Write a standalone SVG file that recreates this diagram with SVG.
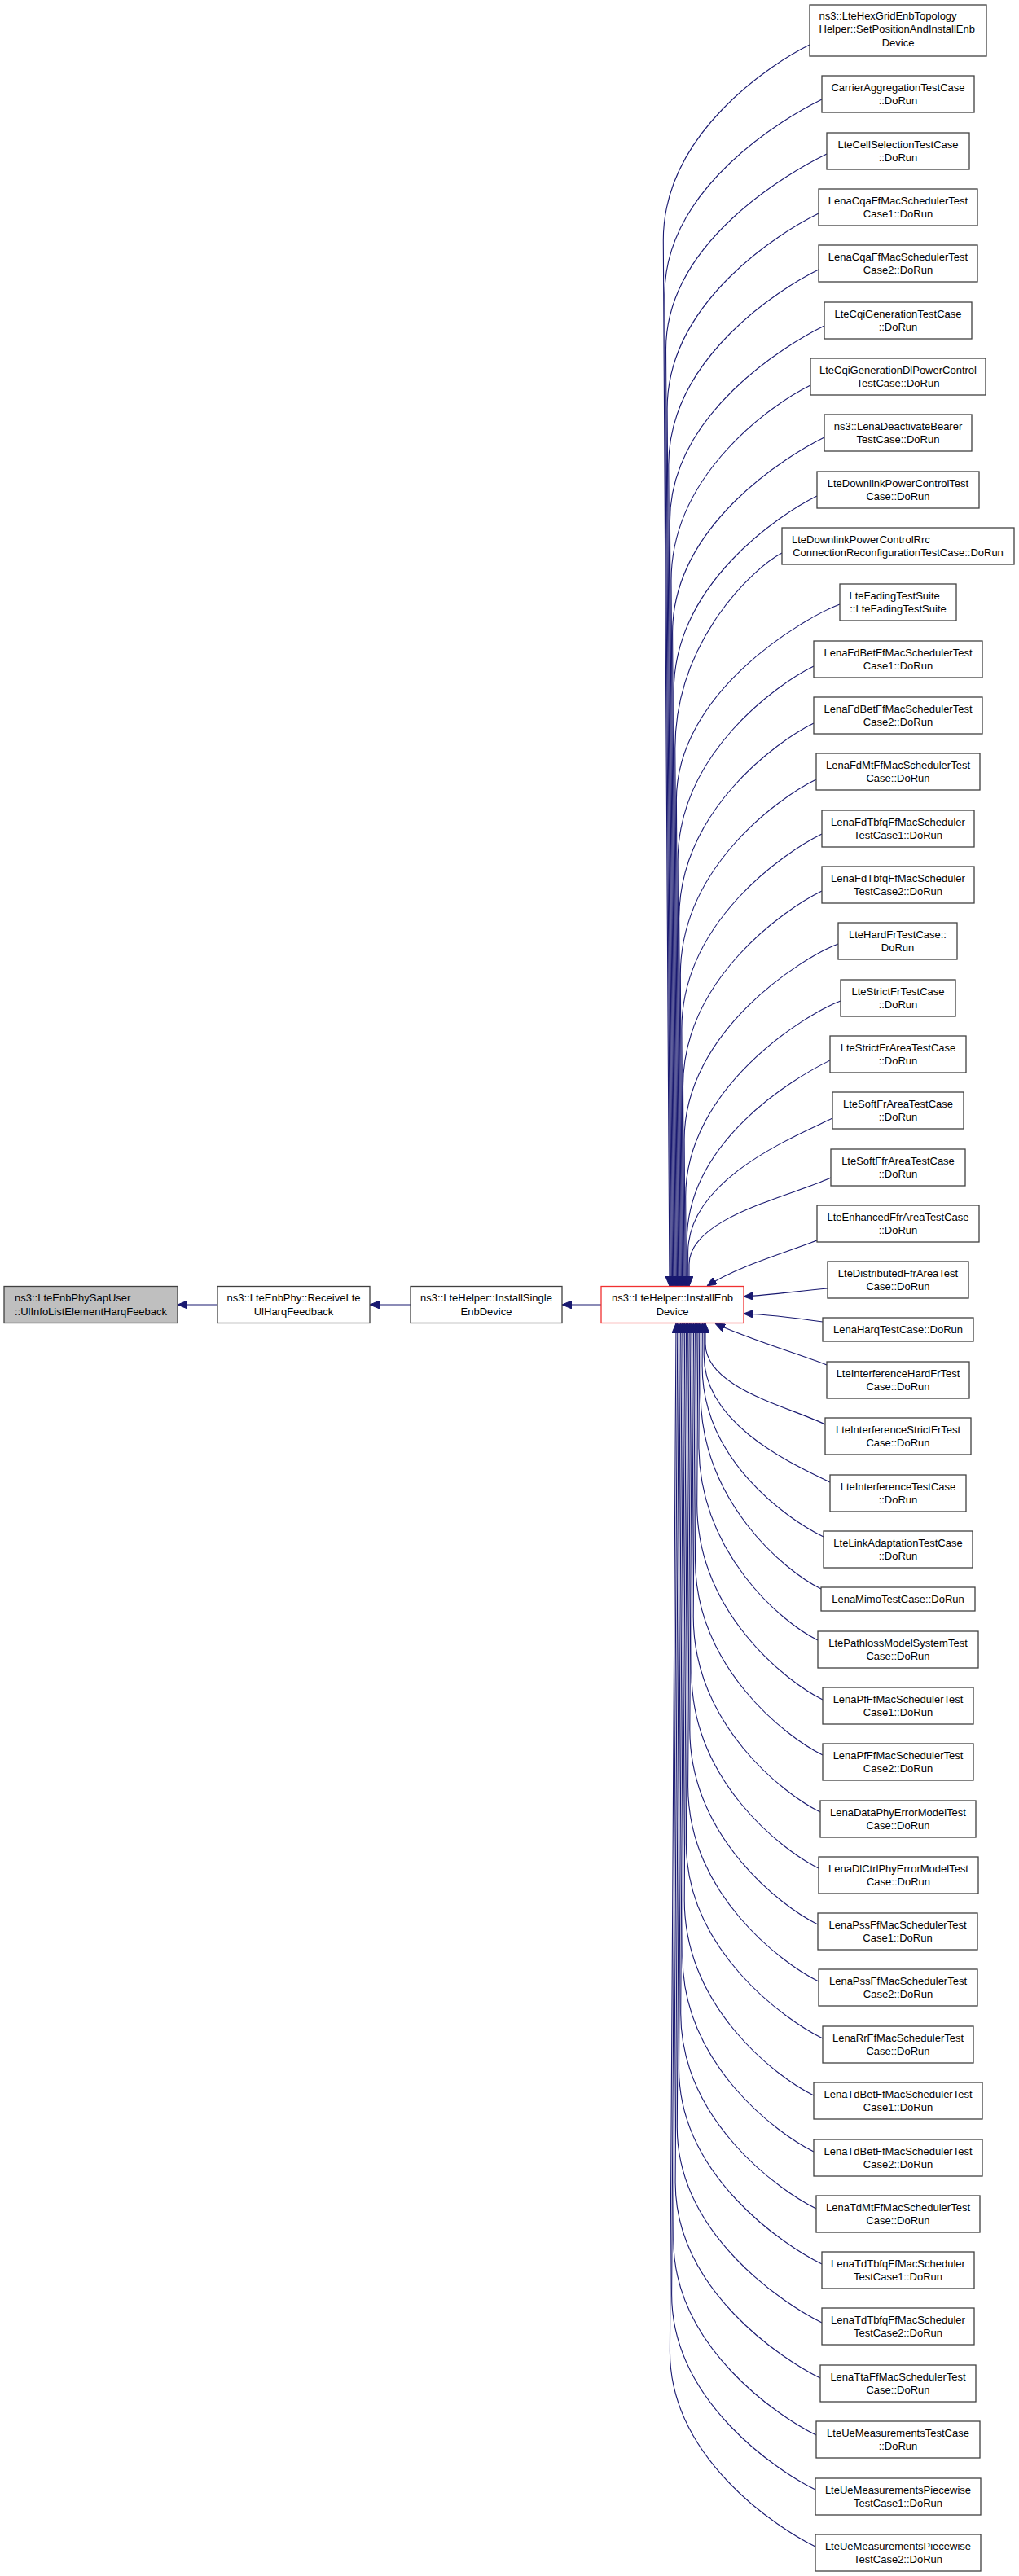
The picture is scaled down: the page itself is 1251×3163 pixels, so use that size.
<svg xmlns="http://www.w3.org/2000/svg" width="1251" height="3163" viewBox="0 0 1251 3163">
<style>
.node rect{fill:#ffffff;stroke:#404040;stroke-width:1.3}
#nA rect{fill:#bfbfbf}
#nD rect{stroke:#f03030}
text{font-family:"Liberation Sans",Arial,Helvetica,sans-serif;font-size:13px;fill:#000}
.c{text-anchor:middle}
.l{text-anchor:start}
.edges path{fill:none;stroke:#191970;stroke-width:1.1;marker-end:url(#arr)}
</style>
<defs>
<marker id="arr" markerUnits="userSpaceOnUse" markerWidth="12" markerHeight="10" refX="12" refY="5" orient="auto" viewBox="0 0 12 10">
<path d="M0,0 L12,5 L0,10 z" fill="#191970" stroke="#191970" stroke-width="1"/>
</marker>
</defs>
<rect width="1251" height="3163" fill="#ffffff"/>
<g class="edges">
<path d="M738,1602 L690,1602"/>
<path d="M504,1602 L454,1602"/>
<path d="M267,1602 L218,1602"/>
<path d="M994,55 C949,77 814.3,163 814.3,295 L822,1579"/>
<path d="M1009,122 C964,144 815.9,230 815.9,362 L823.2,1579"/>
<path d="M1015,189 C970,211 817.5,297 817.5,429 L824.4,1579"/>
<path d="M1005,262 C960,284 819.1,370 819.1,502 L825.6,1579"/>
<path d="M1005,331 C960,353 820.8,439 820.8,571 L826.8,1579"/>
<path d="M1012,400 C967,422 822.4,508 822.4,640 L828,1579"/>
<path d="M995,473 C950,495 824,581 824,713 L829.2,1579"/>
<path d="M1012,537 C967,559 825.6,645 825.6,777 L830.4,1579"/>
<path d="M1003,609 C958,631 827.2,717 827.2,849 L831.6,1579"/>
<path d="M960,679 C925,697 828.8,787 828.8,919 L832.8,1579"/>
<path d="M1031,742 C986,759 830.4,850 830.4,982 L834,1579"/>
<path d="M999,818 C954,840 832.1,926 832.1,1058 L835.2,1579"/>
<path d="M999,888 C954,910 833.7,996 833.7,1128 L836.4,1579"/>
<path d="M1002,957 C957,979 835.3,1065 835.3,1197 L837.6,1579"/>
<path d="M1009,1024 C964,1046 836.9,1132 836.9,1264 L838.8,1579"/>
<path d="M1009,1094 C964,1116 838.5,1202 838.5,1334 L840,1579"/>
<path d="M1029,1159 C984,1176 840.1,1267 840.1,1399 L841.2,1579"/>
<path d="M1032,1229 C987,1246 841.7,1337 841.7,1469 L842.4,1579"/>
<path d="M1019,1302 C974,1324 843.3,1401.7 843.3,1523.6 L843.6,1579"/>
<path d="M1022,1373 C977,1395 844.6,1447.2 844.6,1537.8 L844.8,1579"/>
<path d="M1020,1446 C975,1468 846,1493.9 846,1552.4 L846,1579"/>
<path d="M1003,1523 C965,1538 905,1555 868,1579"/>
<path d="M1016,1582 C980,1585 950,1590 913,1592"/>
<path d="M1010,1623 C975,1618 945,1614 913,1613"/>
<path d="M1015,1676 C985,1664 910,1641 878,1625"/>
<path d="M1013,1749 C968,1727 866,1704.4 866,1649.8 L866,1625"/>
<path d="M1019,1820 C974,1798 864.2,1749.8 864.2,1664 L864.2,1625"/>
<path d="M1011,1887 C966,1865 862.1,1792.7 862.1,1677.4 L862.4,1625"/>
<path d="M1008,1951 C963,1929 860.1,1843 860.1,1711 L860.6,1625"/>
<path d="M1004,2014 C959,1992 857.9,1906 857.9,1774 L858.8,1625"/>
<path d="M1010,2087 C965,2065 855.7,1979 855.7,1847 L857,1625"/>
<path d="M1010,2155 C965,2133 853.5,2047 853.5,1915 L855.2,1625"/>
<path d="M1007,2225 C962,2203 851.2,2117 851.2,1985 L853.4,1625"/>
<path d="M1005,2294 C960,2272 849,2186 849,2054 L851.6,1625"/>
<path d="M1004,2363 C959,2341 846.8,2255 846.8,2123 L849.8,1625"/>
<path d="M1005,2433 C960,2411 844.6,2325 844.6,2193 L848,1625"/>
<path d="M1010,2503 C965,2481 842.4,2395 842.4,2263 L846.2,1625"/>
<path d="M999,2573 C954,2551 840.2,2465 840.2,2333 L844.4,1625"/>
<path d="M999,2642 C954,2620 837.9,2534 837.9,2402 L842.6,1625"/>
<path d="M1002,2712 C957,2690 835.7,2604 835.7,2472 L840.8,1625"/>
<path d="M1009,2780 C964,2758 833.5,2672 833.5,2540 L839,1625"/>
<path d="M1009,2852 C964,2830 831.3,2744 831.3,2612 L837.2,1625"/>
<path d="M1007,2920 C962,2898 829.1,2812 829.1,2680 L835.4,1625"/>
<path d="M1002,2990 C957,2968 826.8,2882 826.8,2750 L833.6,1625"/>
<path d="M1001,3057 C956,3035 824.6,2949 824.6,2817 L831.8,1625"/>
<path d="M1001,3127 C956,3105 822.4,3019 822.4,2887 L830,1625"/>
</g>
<g id="nA" class="node"><rect x="5" y="1579.5" width="213" height="45"/><text class="l" x="18" y="1598.1">ns3::LteEnbPhySapUser</text><text class="c" x="111.5" y="1614.7">::UlInfoListElementHarqFeeback</text></g>
<g id="nB" class="node"><rect x="267" y="1579.5" width="187" height="45"/><text class="c" x="360.5" y="1598.1">ns3::LteEnbPhy::ReceiveLte</text><text class="c" x="360.5" y="1614.7">UlHarqFeedback</text></g>
<g id="nC" class="node"><rect x="504" y="1579.5" width="186" height="45"/><text class="c" x="597" y="1598.1">ns3::LteHelper::InstallSingle</text><text class="c" x="597" y="1614.7">EnbDevice</text></g>
<g id="nD" class="node"><rect x="738" y="1579.5" width="175" height="45"/><text class="c" x="825.5" y="1598.1">ns3::LteHelper::InstallEnb</text><text class="c" x="825.5" y="1614.7">Device</text></g>
<g id="n1" class="node"><rect x="994" y="6" width="217" height="63"/><text class="l" x="1005.5" y="23.8">ns3::LteHexGridEnbTopology</text><text class="l" x="1005.5" y="40.4">Helper::SetPositionAndInstallEnb</text><text class="c" x="1102.5" y="57">Device</text></g>
<g id="n2" class="node"><rect x="1009" y="93" width="187" height="45"/><text class="c" x="1102.5" y="111.6">CarrierAggregationTestCase</text><text class="c" x="1102.5" y="128.2">::DoRun</text></g>
<g id="n3" class="node"><rect x="1015" y="163" width="175" height="45"/><text class="c" x="1102.5" y="181.6">LteCellSelectionTestCase</text><text class="c" x="1102.5" y="198.2">::DoRun</text></g>
<g id="n4" class="node"><rect x="1005" y="232" width="195" height="45"/><text class="c" x="1102.5" y="250.6">LenaCqaFfMacSchedulerTest</text><text class="c" x="1102.5" y="267.2">Case1::DoRun</text></g>
<g id="n5" class="node"><rect x="1005" y="301" width="195" height="45"/><text class="c" x="1102.5" y="319.6">LenaCqaFfMacSchedulerTest</text><text class="c" x="1102.5" y="336.2">Case2::DoRun</text></g>
<g id="n6" class="node"><rect x="1012" y="371" width="181" height="45"/><text class="c" x="1102.5" y="389.6">LteCqiGenerationTestCase</text><text class="c" x="1102.5" y="406.2">::DoRun</text></g>
<g id="n7" class="node"><rect x="995" y="440" width="215" height="45"/><text class="c" x="1102.5" y="458.6">LteCqiGenerationDlPowerControl</text><text class="c" x="1102.5" y="475.2">TestCase::DoRun</text></g>
<g id="n8" class="node"><rect x="1012" y="509" width="181" height="45"/><text class="c" x="1102.5" y="527.6">ns3::LenaDeactivateBearer</text><text class="c" x="1102.5" y="544.2">TestCase::DoRun</text></g>
<g id="n9" class="node"><rect x="1003" y="579" width="199" height="45"/><text class="c" x="1102.5" y="597.6">LteDownlinkPowerControlTest</text><text class="c" x="1102.5" y="614.2">Case::DoRun</text></g>
<g id="n10" class="node"><rect x="960" y="648" width="285" height="45"/><text class="l" x="972" y="666.6">LteDownlinkPowerControlRrc</text><text class="c" x="1102.5" y="683.2">ConnectionReconfigurationTestCase::DoRun</text></g>
<g id="n11" class="node"><rect x="1031" y="717" width="143" height="45"/><text class="l" x="1042.5" y="735.6">LteFadingTestSuite</text><text class="c" x="1102.5" y="752.2">::LteFadingTestSuite</text></g>
<g id="n12" class="node"><rect x="999" y="787" width="207" height="45"/><text class="c" x="1102.5" y="805.6">LenaFdBetFfMacSchedulerTest</text><text class="c" x="1102.5" y="822.2">Case1::DoRun</text></g>
<g id="n13" class="node"><rect x="999" y="856" width="207" height="45"/><text class="c" x="1102.5" y="874.6">LenaFdBetFfMacSchedulerTest</text><text class="c" x="1102.5" y="891.2">Case2::DoRun</text></g>
<g id="n14" class="node"><rect x="1002" y="925" width="201" height="45"/><text class="c" x="1102.5" y="943.6">LenaFdMtFfMacSchedulerTest</text><text class="c" x="1102.5" y="960.2">Case::DoRun</text></g>
<g id="n15" class="node"><rect x="1009" y="995" width="187" height="45"/><text class="c" x="1102.5" y="1013.6">LenaFdTbfqFfMacScheduler</text><text class="c" x="1102.5" y="1030.2">TestCase1::DoRun</text></g>
<g id="n16" class="node"><rect x="1009" y="1064" width="187" height="45"/><text class="c" x="1102.5" y="1082.6">LenaFdTbfqFfMacScheduler</text><text class="c" x="1102.5" y="1099.2">TestCase2::DoRun</text></g>
<g id="n17" class="node"><rect x="1029" y="1133" width="146" height="45"/><text class="c" x="1102" y="1151.6">LteHardFrTestCase::</text><text class="c" x="1102" y="1168.2">DoRun</text></g>
<g id="n18" class="node"><rect x="1032" y="1203" width="141" height="45"/><text class="c" x="1102.5" y="1221.6">LteStrictFrTestCase</text><text class="c" x="1102.5" y="1238.2">::DoRun</text></g>
<g id="n19" class="node"><rect x="1019" y="1272" width="167" height="45"/><text class="c" x="1102.5" y="1290.6">LteStrictFrAreaTestCase</text><text class="c" x="1102.5" y="1307.2">::DoRun</text></g>
<g id="n20" class="node"><rect x="1022" y="1341" width="161" height="45"/><text class="c" x="1102.5" y="1359.6">LteSoftFrAreaTestCase</text><text class="c" x="1102.5" y="1376.2">::DoRun</text></g>
<g id="n21" class="node"><rect x="1020" y="1411" width="165" height="45"/><text class="c" x="1102.5" y="1429.6">LteSoftFfrAreaTestCase</text><text class="c" x="1102.5" y="1446.2">::DoRun</text></g>
<g id="n22" class="node"><rect x="1003" y="1480" width="199" height="45"/><text class="c" x="1102.5" y="1498.6">LteEnhancedFfrAreaTestCase</text><text class="c" x="1102.5" y="1515.2">::DoRun</text></g>
<g id="n23" class="node"><rect x="1016" y="1549" width="173" height="45"/><text class="c" x="1102.5" y="1567.6">LteDistributedFfrAreaTest</text><text class="c" x="1102.5" y="1584.2">Case::DoRun</text></g>
<g id="n24" class="node"><rect x="1010" y="1618" width="185" height="29"/><text class="c" x="1102.5" y="1636.8">LenaHarqTestCase::DoRun</text></g>
<g id="n25" class="node"><rect x="1015" y="1672" width="175" height="45"/><text class="c" x="1102.5" y="1690.6">LteInterferenceHardFrTest</text><text class="c" x="1102.5" y="1707.2">Case::DoRun</text></g>
<g id="n26" class="node"><rect x="1013" y="1741" width="179" height="45"/><text class="c" x="1102.5" y="1759.6">LteInterferenceStrictFrTest</text><text class="c" x="1102.5" y="1776.2">Case::DoRun</text></g>
<g id="n27" class="node"><rect x="1019" y="1811" width="167" height="45"/><text class="c" x="1102.5" y="1829.6">LteInterferenceTestCase</text><text class="c" x="1102.5" y="1846.2">::DoRun</text></g>
<g id="n28" class="node"><rect x="1011" y="1880" width="183" height="45"/><text class="c" x="1102.5" y="1898.6">LteLinkAdaptationTestCase</text><text class="c" x="1102.5" y="1915.2">::DoRun</text></g>
<g id="n29" class="node"><rect x="1008" y="1949" width="189" height="29"/><text class="c" x="1102.5" y="1967.8">LenaMimoTestCase::DoRun</text></g>
<g id="n30" class="node"><rect x="1004" y="2003" width="197" height="45"/><text class="c" x="1102.5" y="2021.6">LtePathlossModelSystemTest</text><text class="c" x="1102.5" y="2038.2">Case::DoRun</text></g>
<g id="n31" class="node"><rect x="1010" y="2072" width="185" height="45"/><text class="c" x="1102.5" y="2090.6">LenaPfFfMacSchedulerTest</text><text class="c" x="1102.5" y="2107.2">Case1::DoRun</text></g>
<g id="n32" class="node"><rect x="1010" y="2141" width="185" height="45"/><text class="c" x="1102.5" y="2159.6">LenaPfFfMacSchedulerTest</text><text class="c" x="1102.5" y="2176.2">Case2::DoRun</text></g>
<g id="n33" class="node"><rect x="1007" y="2211" width="191" height="45"/><text class="c" x="1102.5" y="2229.6">LenaDataPhyErrorModelTest</text><text class="c" x="1102.5" y="2246.2">Case::DoRun</text></g>
<g id="n34" class="node"><rect x="1005" y="2280" width="196" height="45"/><text class="c" x="1103" y="2298.6">LenaDlCtrlPhyErrorModelTest</text><text class="c" x="1103" y="2315.2">Case::DoRun</text></g>
<g id="n35" class="node"><rect x="1004" y="2349" width="196" height="45"/><text class="c" x="1102" y="2367.6">LenaPssFfMacSchedulerTest</text><text class="c" x="1102" y="2384.2">Case1::DoRun</text></g>
<g id="n36" class="node"><rect x="1005" y="2418" width="195" height="45"/><text class="c" x="1102.5" y="2436.6">LenaPssFfMacSchedulerTest</text><text class="c" x="1102.5" y="2453.2">Case2::DoRun</text></g>
<g id="n37" class="node"><rect x="1010" y="2488" width="185" height="45"/><text class="c" x="1102.5" y="2506.6">LenaRrFfMacSchedulerTest</text><text class="c" x="1102.5" y="2523.2">Case::DoRun</text></g>
<g id="n38" class="node"><rect x="999" y="2557" width="207" height="45"/><text class="c" x="1102.5" y="2575.6">LenaTdBetFfMacSchedulerTest</text><text class="c" x="1102.5" y="2592.2">Case1::DoRun</text></g>
<g id="n39" class="node"><rect x="999" y="2627" width="207" height="45"/><text class="c" x="1102.5" y="2645.6">LenaTdBetFfMacSchedulerTest</text><text class="c" x="1102.5" y="2662.2">Case2::DoRun</text></g>
<g id="n40" class="node"><rect x="1002" y="2696" width="201" height="45"/><text class="c" x="1102.5" y="2714.6">LenaTdMtFfMacSchedulerTest</text><text class="c" x="1102.5" y="2731.2">Case::DoRun</text></g>
<g id="n41" class="node"><rect x="1009" y="2765" width="187" height="45"/><text class="c" x="1102.5" y="2783.6">LenaTdTbfqFfMacScheduler</text><text class="c" x="1102.5" y="2800.2">TestCase1::DoRun</text></g>
<g id="n42" class="node"><rect x="1009" y="2834" width="187" height="45"/><text class="c" x="1102.5" y="2852.6">LenaTdTbfqFfMacScheduler</text><text class="c" x="1102.5" y="2869.2">TestCase2::DoRun</text></g>
<g id="n43" class="node"><rect x="1007" y="2904" width="191" height="45"/><text class="c" x="1102.5" y="2922.6">LenaTtaFfMacSchedulerTest</text><text class="c" x="1102.5" y="2939.2">Case::DoRun</text></g>
<g id="n44" class="node"><rect x="1002" y="2973" width="201" height="45"/><text class="c" x="1102.5" y="2991.6">LteUeMeasurementsTestCase</text><text class="c" x="1102.5" y="3008.2">::DoRun</text></g>
<g id="n45" class="node"><rect x="1001" y="3043" width="203" height="45"/><text class="c" x="1102.5" y="3061.6">LteUeMeasurementsPiecewise</text><text class="c" x="1102.5" y="3078.2">TestCase1::DoRun</text></g>
<g id="n46" class="node"><rect x="1001" y="3112" width="203" height="45"/><text class="c" x="1102.5" y="3130.6">LteUeMeasurementsPiecewise</text><text class="c" x="1102.5" y="3147.2">TestCase2::DoRun</text></g>
</svg>
